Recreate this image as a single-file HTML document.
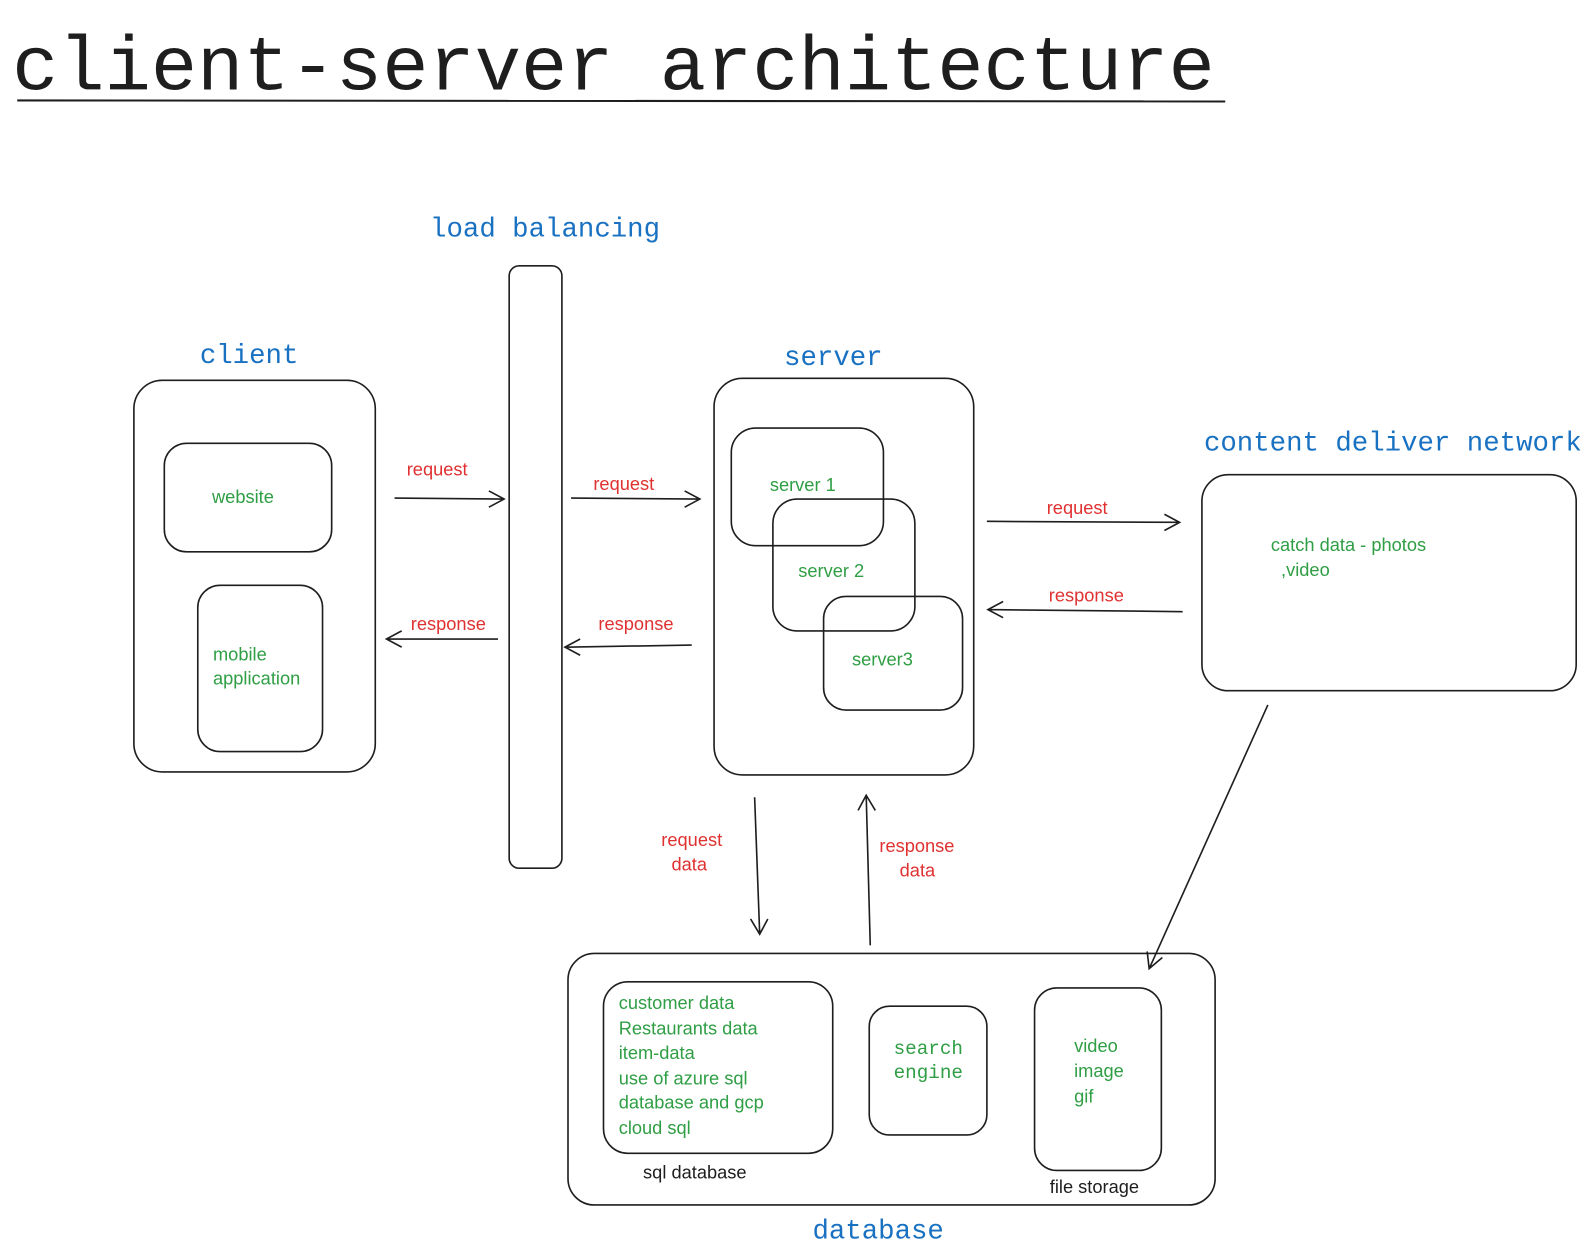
<!DOCTYPE html>
<html><head><meta charset="utf-8"><style>
html,body{margin:0;padding:0;background:#fff;}
svg{display:block}
.t{font-family:"Liberation Mono",monospace;fill:#1971c2;font-size:27px}
.g{font-family:"Liberation Sans",sans-serif;fill:#2f9e44;font-size:18px}
.r{font-family:"Liberation Sans",sans-serif;fill:#e03131;font-size:18px}
.k{font-family:"Liberation Sans",sans-serif;fill:#1e1e1e;font-size:18px}
.b{fill:none;stroke:#1e1e1e;stroke-width:1.6}
</style></head><body>
<svg width="1591" height="1255" viewBox="0 0 1568.6 1237.3" xmlns="http://www.w3.org/2000/svg">
<text x="12" y="88" font-family="Liberation Mono,monospace" font-size="76" fill="#1e1e1e">client-server architecture</text>
<line x1="17" y1="99" x2="1208" y2="100" stroke="#1e1e1e" stroke-width="2"/>

<text class="t" x="424" y="233">load balancing</text>
<text class="t" x="197" y="358">client</text>
<text class="t" x="773" y="360">server</text>
<text class="t" x="1187" y="444">content deliver network</text>
<text class="t" x="801" y="1221">database</text>

<rect class="b" x="132" y="375" width="238" height="386" rx="28"/>
<rect class="b" x="162" y="437" width="165" height="107" rx="22"/>
<text class="g" x="209" y="496">website</text>
<rect class="b" x="195" y="577" width="123" height="164" rx="22"/>
<text class="g" x="210" y="651">mobile</text>
<text class="g" x="210" y="675">application</text>

<rect class="b" x="502" y="262" width="52" height="594" rx="10"/>

<rect class="b" x="704" y="373" width="256" height="391" rx="28"/>
<rect class="b" x="721" y="422" width="150" height="116" rx="24"/>
<text class="g" x="759" y="484">server 1</text>
<rect class="b" x="762" y="492" width="140" height="130" rx="24"/>
<text class="g" x="787" y="569">server 2</text>
<rect class="b" x="812" y="588" width="137" height="112" rx="22"/>
<text class="g" x="840" y="656">server3</text>

<rect class="b" x="1185" y="468" width="369" height="213" rx="26"/>
<text class="g" x="1253" y="543">catch data - photos</text>
<text class="g" x="1263" y="568">,video</text>

<rect class="b" x="560" y="940" width="638" height="248" rx="26"/>
<rect class="b" x="595" y="968" width="226" height="169" rx="24"/>
<text class="g" x="610" y="995">customer data</text>
<text class="g" x="610" y="1020">Restaurants data</text>
<text class="g" x="610" y="1044">item-data</text>
<text class="g" x="610" y="1069">use of azure sql</text>
<text class="g" x="610" y="1093">database and gcp</text>
<text class="g" x="610" y="1118">cloud sql</text>
<text class="k" x="634" y="1162">sql database</text>
<rect class="b" x="857" y="992" width="116" height="127" rx="20"/>
<text x="881" y="1039" font-family="Liberation Mono,monospace" font-size="19" fill="#2f9e44">search</text>
<text x="881" y="1063" font-family="Liberation Mono,monospace" font-size="19" fill="#2f9e44">engine</text>
<rect class="b" x="1020" y="974" width="125" height="180" rx="22"/>
<text class="g" x="1059" y="1037">video</text>
<text class="g" x="1059" y="1062">image</text>
<text class="g" x="1059" y="1087">gif</text>
<text class="k" x="1035" y="1176">file storage</text>

<g class="b">
<path d="M389 491 L497 492 M482 484 L497 492 L482 500"/>
<path d="M563 491 L690 492 M675 484 L690 492 L675 500"/>
<path d="M491 630 L381 630 M396 622 L381 630 L396 638"/>
<path d="M682 636 L557 638 M572 630 L557 638 L572 646"/>
<path d="M973 514 L1163 515 M1148 507 L1163 515 L1148 523"/>
<path d="M1166 603 L974 601 M989 593 L974 601 L989 609"/>
<path d="M744 786 L749 921 M740 906 L749 921 L757 906"/>
<path d="M858 932 L854 784 M846 799 L854 784 L863 799"/>
<path d="M1250 695 L1133 955 M1131 938 L1133 955 L1146 944"/>
</g>
<text class="r" x="401" y="469">request</text>
<text class="r" x="585" y="483">request</text>
<text class="r" x="405" y="621">response</text>
<text class="r" x="590" y="621">response</text>
<text class="r" x="1032" y="507">request</text>
<text class="r" x="1034" y="593">response</text>
<text class="r" x="652" y="834">request</text>
<text class="r" x="662" y="858">data</text>
<text class="r" x="867" y="840">response</text>
<text class="r" x="887" y="864">data</text>
</svg>
</body></html>
